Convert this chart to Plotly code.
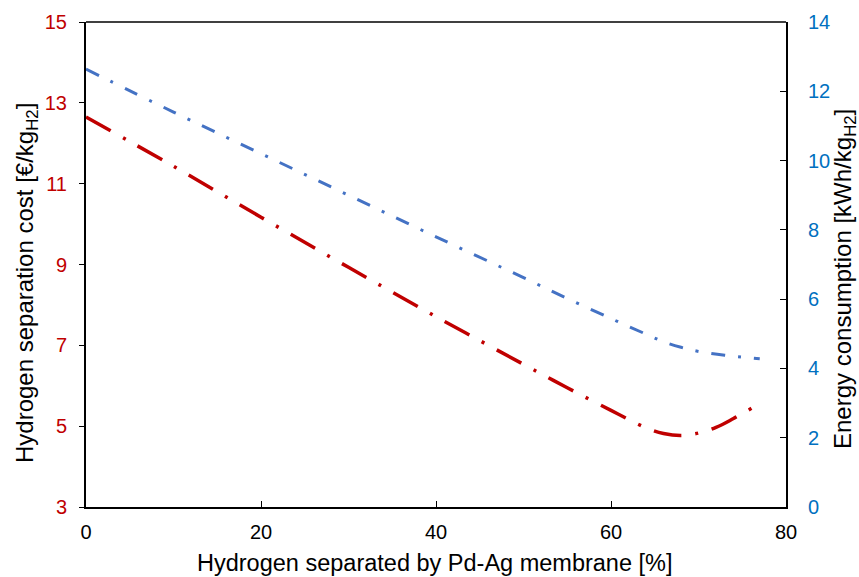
import plotly.graph_objects as go

# Data
x_cost = [0, 10, 20, 30, 40, 50, 55, 60, 64, 66, 68, 70, 72, 74, 77]
cost = [12.65, 11.43, 10.17, 8.93, 7.71, 6.53, 5.95, 5.39, 4.96, 4.82, 4.77, 4.83, 4.97, 5.19, 5.56]

x_energy = [0, 10, 20, 30, 40, 50, 55, 60, 64, 66, 68, 70, 73, 77]
energy = [12.64, 11.40, 10.20, 9.00, 7.80, 6.62, 6.02, 5.44, 4.99, 4.77, 4.61, 4.49, 4.38, 4.28]

x_ticks = [0, 20, 40, 60, 80]
y1_ticks = [3, 5, 7, 9, 11, 13, 15]
y2_ticks = [0, 2, 4, 6, 8, 10, 12, 14]

x_title = "Hydrogen separated by Pd-Ag membrane [%]"
y1_title = "Hydrogen separation cost [€/kg<sub>H2</sub>]"
y2_title = "Energy consumption [kWh/kg<sub>H2</sub>]"

RED = "#C00000"
BLUE = "#4472C4"
BLUE_TXT = "#0070C0"
FONT = "Liberation Sans, Arial, sans-serif"

fig = go.Figure()
fig.add_trace(go.Scatter(
    x=x_cost, y=cost, mode="lines", line_shape="spline",
    line=dict(color=RED, width=3.5, dash="28px,14px,3px,14px"),
    yaxis="y", showlegend=False))
fig.add_trace(go.Scatter(
    x=x_energy, y=energy, mode="lines", line_shape="spline",
    line=dict(color=BLUE, width=3, dash="14px,13px,3px,13px"),
    yaxis="y2", showlegend=False))

W, H = 859, 577
L, R, T, B = 86, 73, 22, 70

fig.update_layout(
    width=W, height=H,
    margin=dict(l=L, r=R, t=T, b=B, autoexpand=False),
    paper_bgcolor="white", plot_bgcolor="white",
    font=dict(family=FONT, size=20, color="black"),
    xaxis=dict(
        range=[0, 80], tickvals=x_ticks, showgrid=False, zeroline=False,
        showline=True, linecolor="black", linewidth=2, automargin=False,
        ticks="inside", ticklen=6, tickcolor="black", tickwidth=1,
        tickfont=dict(size=20, color="black"), ticklabelstandoff=6,
    ),
    yaxis=dict(
        range=[3, 15], tickvals=y1_ticks, showgrid=False, zeroline=False,
        showline=True, linecolor="black", linewidth=2, automargin=False,
        ticks="outside", ticklen=5, tickcolor="black", tickwidth=1,
        tickfont=dict(size=20, color=RED), ticklabelstandoff=8,
    ),
    yaxis2=dict(
        range=[0, 14], tickvals=y2_ticks, overlaying="y", side="right",
        showgrid=False, zeroline=False, automargin=False,
        showline=True, linecolor="black", linewidth=2,
        ticks="inside", ticklen=6, tickcolor="black", tickwidth=1,
        tickfont=dict(size=20, color=BLUE_TXT), ticklabelstandoff=16,
    ),
    shapes=[dict(type="line", xref="paper", yref="paper", x0=0, x1=1, y0=1, y1=1,
                 line=dict(color="#404040", width=2))],
)

pw, ph = W - L - R, H - T - B
def px_x(p):
    return (p - L) / pw
def px_y(p):
    return (H - B - p) / ph

fig.add_annotation(text=x_title, xref="paper", yref="paper",
                   x=px_x(434), y=px_y(563), showarrow=False,
                   xanchor="center", yanchor="middle", font=dict(size=23.5))
fig.add_annotation(text=y1_title, xref="paper", yref="paper",
                   x=px_x(26), y=px_y(283), showarrow=False, textangle=-90,
                   xanchor="center", yanchor="middle", font=dict(size=24))
fig.add_annotation(text=y2_title, xref="paper", yref="paper",
                   x=px_x(844), y=px_y(279), showarrow=False, textangle=-90,
                   xanchor="center", yanchor="middle", font=dict(size=24))

fig.write_html("out.html")
